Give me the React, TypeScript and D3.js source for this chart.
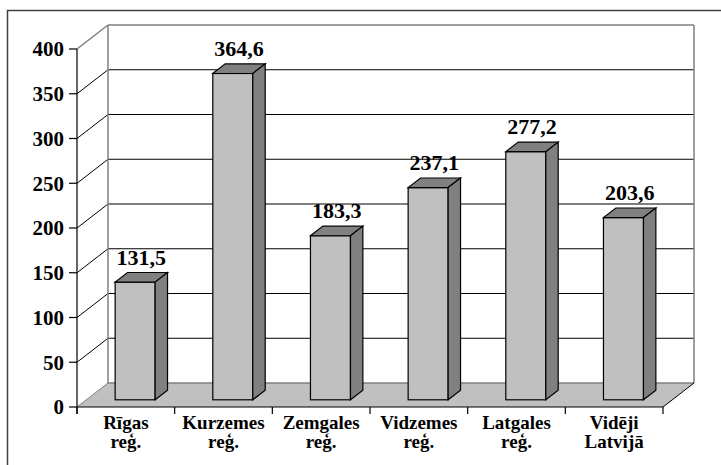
import React from "react";
import * as d3 from "d3";

const categories = ["Rīgas reģ.", "Kurzemes reģ.", "Zemgales reģ.", "Vidzemes reģ.", "Latgales reģ.", "Vidēji Latvijā"];
const labelLines = [["Rīgas", "reģ."], ["Kurzemes", "reģ."], ["Zemgales", "reģ."], ["Vidzemes", "reģ."], ["Latgales", "reģ."], ["Vidēji", "Latvijā"]];
const values = [131.5, 364.6, 183.3, 237.1, 277.2, 203.6];
const valueLabels = ["131,5", "364,6", "183,3", "237,1", "277,2", "203,6"];
const yTicks = [0, 50, 100, 150, 200, 250, 300, 350, 400];

export default function App() {
  const W = 721, H = 465;
  const x0 = 77, x1 = 663;
  const y = d3.scaleLinear().domain([0, 400]).range([407, 49]);
  const x = d3.scaleBand().domain(categories).range([x0, x1]).paddingInner(0).paddingOuter(0);
  const DX = 31, DY = 24; // full depth offset
  const f0 = 0.3, f1 = 0.7;
  const barW = 40;
  const fontStyle = { fontFamily: '"Liberation Serif", "Times New Roman", Tinos, "DejaVu Serif", serif', fontWeight: 700 as const };
  const floorY = y(0);
  const topY = y(400);

  const pts = (a: number[][]) => a.map(p => p.join(",")).join(" ");

  return (
    <svg width={W} height={H} style={{ position: "absolute", left: 0, top: 0, background: "#fff" }}>
      {/* outer frame */}
      <rect x={7.5} y={10.5} width={800} height={600} fill="none" stroke="#404040" strokeWidth={1.5} />
      {/* back wall */}
      <rect x={x0 + DX} y={topY - DY} width={x1 - x0} height={floorY - topY} fill="#fff" stroke="none" />
      {/* gridlines on back wall and left wall */}
      {yTicks.filter(t => t > 0 && t < 400).map(t => (
        <g key={t}>
          <line x1={x0 + DX} x2={x1 + DX} y1={y(t) - DY} y2={y(t) - DY} stroke="#000" strokeWidth={1} />
          <line x1={x0} x2={x0 + DX} y1={y(t)} y2={y(t) - DY} stroke="#000" strokeWidth={1} />
        </g>
      ))}
      {/* wall borders */}
      <line x1={x0 + DX} x2={x1 + DX} y1={topY - DY} y2={topY - DY} stroke="#808080" strokeWidth={1.5} />
      <line x1={x0} x2={x0 + DX} y1={topY} y2={topY - DY} stroke="#808080" strokeWidth={1.5} />
      <line x1={x0 + DX} x2={x0 + DX} y1={topY - DY} y2={floorY - DY} stroke="#808080" strokeWidth={1.5} />
      <line x1={x1 + DX} x2={x1 + DX} y1={topY - DY} y2={floorY - DY} stroke="#808080" strokeWidth={1.5} />
      {/* floor */}
      <polygon points={pts([[x0, floorY], [x1, floorY], [x1 + DX, floorY - DY], [x0 + DX, floorY - DY]])} fill="#c0c0c0" stroke="none" />
      <line x1={x0 + DX} x2={x1 + DX} y1={floorY - DY} y2={floorY - DY} stroke="#808080" strokeWidth={1.5} />
      <line x1={x0} x2={x0 + DX} y1={floorY} y2={floorY - DY} stroke="#808080" strokeWidth={1} />
      <line x1={x1} x2={x1 + DX} y1={floorY} y2={floorY - DY} stroke="#000" strokeWidth={1} />
      {/* bars */}
      {categories.map((c, i) => {
        const v = values[i];
        const cx = (x(c) as number) + x.bandwidth() / 2 + DX * f0;
        const l = cx - barW / 2, r = cx + barW / 2;
        const b = floorY - DY * f0;
        const t = y(v) - DY * f0;
        const ddx = DX * (f1 - f0), ddy = DY * (f1 - f0);
        return (
          <g key={c} stroke="#000" strokeWidth={1.2} strokeLinejoin="miter">
            <rect x={l} y={t} width={barW} height={b - t} fill="#c0c0c0" />
            <polygon points={pts([[l, t], [r, t], [r + ddx, t - ddy], [l + ddx, t - ddy]])} fill="#808080" />
            <polygon points={pts([[r, t], [r + ddx, t - ddy], [r + ddx, b - ddy], [r, b]])} fill="#808080" />
            <text x={cx + ddx / 2} y={t - ddy - 8} textAnchor="middle" style={{ ...fontStyle, fontSize: 22 }} stroke="none" fill="#000">{valueLabels[i]}</text>
          </g>
        );
      })}
      {/* front axes */}
      <line x1={x0} x2={x0} y1={topY} y2={floorY + 7} stroke="#000" strokeWidth={1.2} />
      <line x1={x0} x2={x1} y1={floorY} y2={floorY} stroke="#000" strokeWidth={1.2} />
      {yTicks.map(t => (
        <g key={t}>
          <line x1={x0 - 8} x2={x0} y1={y(t)} y2={y(t)} stroke="#000" strokeWidth={1.2} />
          <text x={64} y={y(t)} dy="0.35em" textAnchor="end" style={{ ...fontStyle, fontSize: 21 }} fill="#000">{t}</text>
        </g>
      ))}
      {[...categories.map(c => x(c) as number), x1].map((px, i) => (
        <line key={i} x1={px} x2={px} y1={floorY} y2={floorY + 7} stroke="#000" strokeWidth={1.2} />
      ))}
      {categories.map((c, i) => (
        <text key={c} textAnchor="middle" style={{ ...fontStyle, fontSize: 19 }} fill="#000">
          {labelLines[i].map((ln, j) => (
            <tspan key={j} x={(x(c) as number) + x.bandwidth() / 2} y={429 + j * 19}>{ln}</tspan>
          ))}
        </text>
      ))}
    </svg>
  );
}
